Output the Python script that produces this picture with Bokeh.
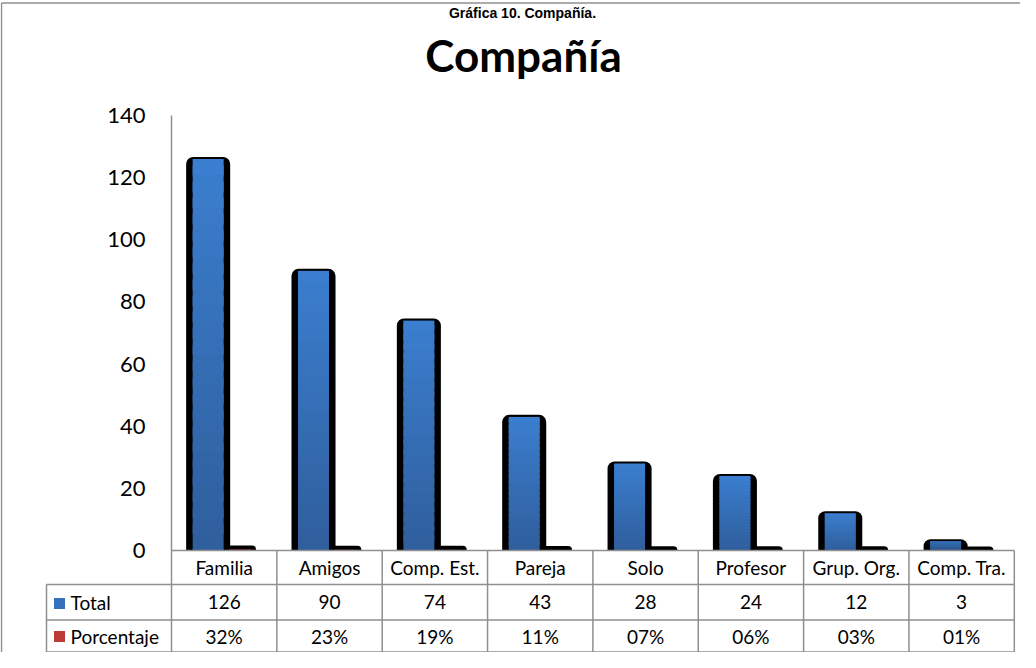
from bokeh.plotting import figure
from bokeh.models import Range1d, LinearAxis, FixedTicker
from bokeh.core.properties import value
from bokeh.embed import file_html
from bokeh.resources import INLINE

# ---------------- data ----------------
categories = ["Familia", "Amigos", "Comp. Est.", "Pareja", "Solo", "Profesor", "Grup. Org.", "Comp. Tra."]
total = [126, 90, 74, 43, 28, 24, 12, 3]
porcentaje = [0.32, 0.23, 0.19, 0.11, 0.07, 0.06, 0.03, 0.01]
series_names = ["Total", "Porcentaje"]
y_ticks = [0, 20, 40, 60, 80, 100, 120, 140]
chart_title = "Compañía"
caption = "Gráfica 10. Compañía."

# ---------------- layout (window pixels) ----------------
W, H = 1020, 652
PAGE = 8
AX_X = 179.0          # x of value axis
CAT_W = 105.35        # width of one category
Y0 = 558.0            # y of value 0
PX_PER_UNIT = (558.0 - 123.0) / 140.0
ROW_Y = [558.0, 592.0, 627.5, 659.5]   # table row boundaries
LABEL_COL_X = 54.0

def dx(px):
    return (px - AX_X) / CAT_W - 0.5

def dy(py):
    return (Y0 - py) / PX_PER_UNIT

FONT = "Lato"
GRID = "#8f8f8f"

p = figure(width=W, height=H,
           x_range=Range1d(dx(PAGE), dx(PAGE + W)),
           y_range=Range1d(dy(PAGE + H), dy(PAGE)),
           output_backend="svg", toolbar_location=None,
           x_axis_type=None, y_axis_type=None,
           min_border=0, outline_line_color=None,
           background_fill_color="white", border_fill_color="white")

n = len(categories)
xs = list(range(n))
OFF = 0.152

# Porcentaje bars (black backing)
p.vbar(x=[i + OFF for i in xs], width=0.30, bottom=0,
       top=[v + 1.3 for v in porcentaje], fill_color="black", line_color=None,
       border_radius=(4, 4, 0, 0))

# Total bars black backing
p.vbar(x=[i - OFF for i in xs], width=0.418, bottom=0,
       top=[v + 0.65 for v in total], fill_color="black", line_color=None,
       border_radius=(7, 7, 0, 0))

# blue gradient bars (stacked slices, each overlapping the next to hide seams)
def mix(c1, c2, t):
    return "#%02x%02x%02x" % tuple(round(a + (b - a) * t) for a, b in zip(c1, c2))

BLUE_TOP = (59, 126, 207)
BLUE_BOT = (47, 94, 156)
RED_TOP = (204, 70, 66)
RED_BOT = (165, 40, 38)
N = 24
gx, gb, gt, gc = [], [], [], []
for i, v in zip(xs, total):
    for k in range(N):
        gx.append(i - OFF)
        gb.append(v * k / N)
        gt.append(min(v, v * (k + 1.6) / N))
        gc.append(mix(BLUE_BOT, BLUE_TOP, (k + 0.5) / N))
p.vbar(x=gx, width=0.294, bottom=gb, top=gt, fill_color=gc, line_color=None)

p.vbar(x=[i + OFF for i in xs], width=0.21, bottom=0, top=porcentaje,
       fill_color=mix(RED_BOT, RED_TOP, 0.5), line_color=None)

# value axis
yaxis = LinearAxis(fixed_location=-0.5, bounds=(0, 140),
                   ticker=FixedTicker(ticks=y_ticks))
yaxis.axis_line_color = GRID
yaxis.axis_line_width = 1.5
yaxis.major_tick_out = 0
yaxis.major_tick_in = 0
yaxis.minor_tick_out = 0
yaxis.minor_tick_in = 0
yaxis.major_label_standoff = 26
yaxis.major_label_text_font = FONT
yaxis.major_label_text_font_size = "22px"
yaxis.major_label_text_color = "black"
p.add_layout(yaxis, "left")

# ---------------- data table ----------------
x_left = -0.5
x_right = n - 0.5
hx0 = [x_left, dx(LABEL_COL_X), dx(LABEL_COL_X), dx(LABEL_COL_X)]
hy = [dy(r) for r in ROW_Y]
p.segment(x0=hx0, y0=hy, x1=[x_right] * 4, y1=hy, line_color=GRID, line_width=1.5)
vx = [k - 0.5 for k in range(n + 1)]
p.segment(x0=vx, y0=[dy(ROW_Y[0])] * len(vx), x1=vx, y1=[dy(ROW_Y[3])] * len(vx),
          line_color=GRID, line_width=1.5)
p.segment(x0=[dx(LABEL_COL_X)], y0=[dy(ROW_Y[1])], x1=[dx(LABEL_COL_X)], y1=[dy(ROW_Y[3])],
          line_color=GRID, line_width=1.5)

row_mid = [dy((ROW_Y[j] + ROW_Y[j + 1]) / 2) for j in range(3)]
TSIZE = "19px"
p.text(x=xs, y=[row_mid[0]] * n, text=categories, text_font=value(FONT),
       text_font_size=TSIZE, text_align="center", text_baseline="middle", text_color="black")
p.text(x=xs, y=[row_mid[1]] * n, text=[str(v) for v in total], text_font=value(FONT),
       text_font_size=TSIZE, text_align="center", text_baseline="middle", text_color="black")
p.text(x=xs, y=[row_mid[2]] * n, text=["%02d%%" % round(v * 100) for v in porcentaje],
       text_font=value(FONT), text_font_size=TSIZE, text_align="center",
       text_baseline="middle", text_color="black")

# legend keys in table
p.rect(x=[dx(67)] * 2, y=[row_mid[1] - 0.4, row_mid[2] - 0.2], width=11, height=11,
       width_units="screen", height_units="screen",
       fill_color=[mix(BLUE_BOT, BLUE_TOP, 0.6), mix(RED_BOT, RED_TOP, 0.6)], line_color=None)
p.text(x=[dx(78)] * 2, y=[row_mid[1], row_mid[2]], text=series_names, text_font=value(FONT),
       text_font_size=TSIZE, text_align="left", text_baseline="middle", text_color="black")

# ---------------- titles & frame ----------------
p.text(x=[dx(531)], y=[dy(62)], text=[chart_title], text_font=value(FONT),
       text_font_size="44px", text_font_style="bold", text_align="center",
       text_baseline="middle", text_color="black")
p.text(x=[dx(530)], y=[dy(20)], text=[caption], text_font=value("Liberation Sans"),
       text_font_size="14px", text_font_style="bold", text_align="center",
       text_baseline="middle", text_color="black")

p.segment(x0=[dx(9), dx(9)], y0=[dy(10.5), dy(10.5)], x1=[dx(PAGE + W), dx(9)],
          y1=[dy(10.5), dy(PAGE + H)], line_color=GRID, line_width=1.5)

open("out.html", "w").write(file_html(p, INLINE))
